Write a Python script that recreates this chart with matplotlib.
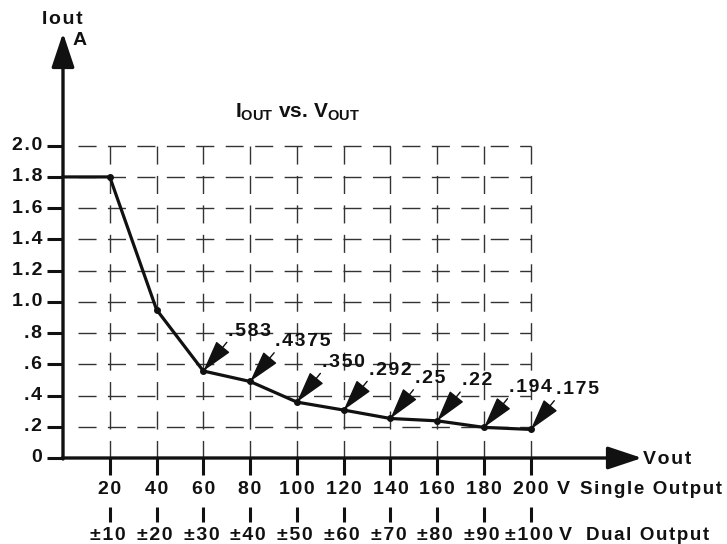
import matplotlib
matplotlib.use('Agg')
import matplotlib.pyplot as plt

plt.rcParams['font.family'] = ['Liberation Sans', 'DejaVu Sans']
plt.rcParams['font.weight'] = 'bold'
plt.rcParams['mathtext.fontset'] = 'custom'
plt.rcParams['mathtext.rm'] = 'Liberation Sans:bold'
plt.rcParams['mathtext.bf'] = 'Liberation Sans:bold'
plt.rcParams['lines.scale_dashes'] = False

# data
vout = [20, 40, 60, 80, 100, 120, 140, 160, 180, 200]
iout = [1.8, 0.95, 0.557, 0.49, 0.358, 0.307, 0.253, 0.238, 0.196, 0.183]
dual_labels = ['±10', '±20', '±30', '±40', '±50', '±60', '±70', '±80', '±90', '±100']
point_labels = ['.583', '.4375', '.350', '.292', '.25', '.22', '.194', '.175']
y_ticks = [0, 0.2, 0.4, 0.6, 0.8, 1.0, 1.2, 1.4, 1.6, 1.8, 2.0]
y_tick_labels = ['0', '.2', '.4', '.6', '.8', '1.0', '1.2', '1.4', '1.6', '1.8', '2.0']

# pixel layout of the drawing
W, H = 727, 544
X0_PX, PX_PER_V = 63, 2.339
Y0_PX, PX_PER_A = 458, 156.15


def spaced(s):
    # wide letter spacing like the original lettering
    return '\u200a'.join(s)


def px_x(p):
    return p / PX_PER_V


def px_y(p):
    return p / PX_PER_A


fig = plt.figure(figsize=(W / 100, H / 100), dpi=100)
ax = fig.add_axes([0, 0, 1, 1])
ax.set_xlim(-X0_PX / PX_PER_V, (W - X0_PX) / PX_PER_V)
ax.set_ylim(-(H - Y0_PX) / PX_PER_A, Y0_PX / PX_PER_A)
ax.axis('off')

ink = '#111111'
fs = 14
ymax = y_ticks[-1]
xmax = vout[-1]

# dashed grid, same dash in both directions
dash = (0, (13.0, 8.2))
hstart = px_x(78 - X0_PX)
for y in y_ticks[1:]:
    ax.plot([hstart, xmax], [y, y], color='#333333', lw=1.0,
            linestyle=dash, zorder=1)
for x in vout:
    ax.plot([x, x], [ymax, 0], color='#333333', lw=1.0,
            linestyle=dash, zorder=1)

# axes with arrow heads
ax.annotate('', xy=(0, px_y(Y0_PX - 33)), xytext=(0, -px_y(1)),
            arrowprops=dict(arrowstyle='-|>,head_length=2.1,head_width=0.7',
                            mutation_scale=10, lw=2.4, color=ink,
                            shrinkA=0, shrinkB=0), zorder=4)
ax.annotate('', xy=(px_x(642 - X0_PX), 0), xytext=(-px_x(1), 0),
            arrowprops=dict(arrowstyle='-|>,head_length=2.1,head_width=0.7',
                            mutation_scale=10, lw=2.4, color=ink,
                            shrinkA=0, shrinkB=0), zorder=4)

# y ticks and labels
for y, lbl in zip(y_ticks, y_tick_labels):
    ax.plot([-px_x(16), 0], [y, y], color=ink, lw=2.2, solid_capstyle='butt', zorder=4)
    ax.text(-px_x(21), y, spaced(lbl), ha='right', va='center',
            fontsize=fs, fontweight='bold', color=ink)

# x ticks, two rows of labels
for x, lbl in zip(vout, dual_labels):
    ax.plot([x, x], [0, -px_y(17)], color=ink, lw=2.2, solid_capstyle='butt', zorder=4)
    ax.plot([x, x], [-px_y(49), -px_y(64)], color=ink, lw=2.2, solid_capstyle='butt', zorder=4)
    ax.text(x, -px_y(32), spaced(str(x)), ha='center', va='center',
            fontsize=fs, fontweight='bold', color=ink)
    ax.text(x - px_x(2), -px_y(78), spaced(lbl), ha='center', va='center',
            fontsize=fs, fontweight='bold', color=ink)

ax.text(xmax + px_x(26), -px_y(32), 'V', ha='left', va='center',
        fontsize=fs, fontweight='bold', color=ink)
ax.text(xmax + px_x(49), -px_y(32), spaced('Single Output'), ha='left', va='center',
        fontsize=13.5, fontweight='bold', color=ink)
ax.text(xmax + px_x(28), -px_y(78), 'V', ha='left', va='center',
        fontsize=fs, fontweight='bold', color=ink)
ax.text(xmax + px_x(55), -px_y(78), spaced('Dual Output'), ha='left', va='center',
        fontsize=13.5, fontweight='bold', color=ink)
ax.text(px_x(643 - X0_PX), px_y(-2), spaced('Vout'), ha='left', va='center',
        fontsize=fs, fontweight='bold', color=ink)

# y axis title
ax.text(-px_x(1), px_y(Y0_PX - 20), spaced('Iout'), ha='center', va='center',
        fontsize=fs, fontweight='bold', color=ink)
ax.text(px_x(17), px_y(Y0_PX - 40), 'A', ha='center', va='center',
        fontsize=fs, fontweight='bold', color=ink)

# chart title
ax.text(px_x(297 - X0_PX), px_y(Y0_PX - 112),
        r'$\mathrm{I_{OUT}}$ vs. $\mathrm{V_{OUT}}$', ha='center', va='center',
        fontsize=15, fontweight='bold', color=ink)

# curve: flat limit from 0 to the first point
ax.plot([0] + vout, [iout[0]] + iout, color=ink, lw=2.3, zorder=3,
        solid_joinstyle='miter')
ax.plot(vout, iout, 'o', color=ink, markersize=4, zorder=3)

# value callouts from 60 V on
for x, y, lbl in zip(vout[2:], iout[2:], point_labels):
    ax.annotate(spaced(lbl), xy=(x, y), xytext=(25, 40), textcoords='offset pixels',
                ha='left', va='center', fontsize=fs, fontweight='bold', color=ink,
                arrowprops=dict(arrowstyle='-|>,head_length=2.0,head_width=0.55',
                                mutation_scale=10, lw=1.0, color=ink,
                                shrinkA=0, shrinkB=0, relpos=(0.05, 0.1)),
                zorder=5)

fig.savefig('out.png', dpi=100)
